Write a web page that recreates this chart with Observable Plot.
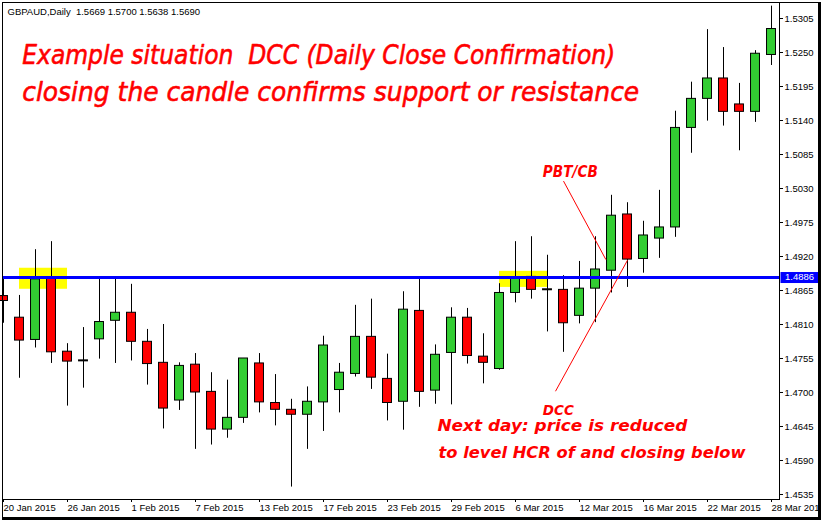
<!DOCTYPE html>
<html><head><meta charset="utf-8">
<script src="https://cdn.jsdelivr.net/npm/d3@7"></script>
<script src="https://cdn.jsdelivr.net/npm/@observablehq/plot@0.6"></script>
<style>
html,body{margin:0;padding:0;background:#fff;}
#wrap{position:relative;width:821px;height:520px;overflow:hidden;background:#fff;}
#wrap svg{position:absolute;left:0;top:0;}
#border{position:absolute;z-index:2;left:2px;top:2px;width:815px;height:514px;border-left:1px solid #000;border-top:1px solid #000;border-right:3px solid #000;border-bottom:3px solid #000;pointer-events:none;}
</style></head><body>
<div id="wrap"><div id="border"></div></div>
<script>
// ---- data ----
const symbol = "GBPAUD,Daily";
const headerQuote = ["1.5669", "1.5700", "1.5638", "1.5690"];
const level = 1.4886;
const dateLabels = ["20 Jan 2015","26 Jan 2015","1 Feb 2015","7 Feb 2015","13 Feb 2015","17 Feb 2015","23 Feb 2015","29 Feb 2015","6 Mar 2015","12 Mar 2015","16 Mar 2015","22 Mar 2015","28 Mar 2015"];
const priceTicks = [1.4535,1.4590,1.4645,1.4700,1.4755,1.4810,1.4865,1.4920,1.4975,1.5030,1.5085,1.5140,1.5195,1.5250,1.5305];
const opens  = [1.4856,1.4821,1.4785,1.4886,1.4766,1.4752,1.4786,1.4816,1.4829,1.4782,1.4748,1.4687,1.4745,1.4701,1.4640,1.4659,1.4747,1.4683,1.4672,1.4664,1.4684,1.4704,1.4730,1.4790,1.4722,1.4685,1.4832,1.4703,1.4764,1.4821,1.4758,1.4738,1.4861,1.4887,1.4867,1.4866,1.4824,1.4868,1.4897,1.4988,1.4916,1.4949,1.4967,1.5128,1.5175,1.5208,1.5166,1.5154,1.5246];
const highs  = [1.4887,1.4857,1.4931,1.4944,1.4779,1.4805,1.4883,1.4883,1.4875,1.4802,1.4810,1.4748,1.4763,1.4732,1.4720,1.4755,1.4763,1.4729,1.4689,1.4709,1.4791,1.4747,1.4841,1.4851,1.4762,1.4863,1.4886,1.4777,1.4837,1.4836,1.4795,1.4876,1.4944,1.4952,1.4922,1.4889,1.4912,1.4952,1.5019,1.5007,1.4977,1.5027,1.5155,1.5202,1.5287,1.5258,1.5200,1.5253,1.5325];
const lows   = [1.4812,1.4723,1.4772,1.4747,1.4678,1.4707,1.4754,1.4747,1.4751,1.4712,1.4641,1.4671,1.4608,1.4615,1.4626,1.4650,1.4667,1.4646,1.4547,1.4608,1.4637,1.4667,1.4725,1.4705,1.4654,1.4639,1.4676,1.4681,1.4680,1.4746,1.4714,1.4736,1.4845,1.4851,1.4798,1.4765,1.4811,1.4813,1.4861,1.4870,1.4893,1.4917,1.4951,1.5087,1.5139,1.5131,1.5091,1.5137,1.5229];
const closes = [1.4848,1.4784,1.4883,1.4765,1.4750,1.4752,1.4814,1.4829,1.4782,1.4746,1.4674,1.4743,1.4700,1.4640,1.4659,1.4755,1.4684,1.4672,1.4664,1.4685,1.4776,1.4732,1.4790,1.4724,1.4683,1.4834,1.4701,1.4761,1.4821,1.4759,1.4748,1.4861,1.4886,1.4866,1.4867,1.4812,1.4868,1.4899,1.4986,1.4915,1.4954,1.4967,1.5128,1.5175,1.5208,1.5154,1.5154,1.5248,1.5288];

// ---- derived table ----
const candles = opens.map((o, i) => ({i, open: o, high: highs[i], low: lows[i], close: closes[i]}));
const bodies = candles.filter(d => d.open !== d.close);
const dojis = candles.filter(d => d.open === d.close);
const tickIdx = dateLabels.map((_, k) => k * 4);

// annotation geometry (in data coordinates)
const zones = [
  {x1: 1, x2: 4, y1: 1.4867, y2: 1.4901},
  {x1: 31, x2: 34, y1: 1.4870, y2: 1.4896}
];
const pointers = [
  {x1: 35.0, y1: 1.5042, x2: 37.65, y2: 1.4915},
  {x1: 34.5, y1: 1.4702, x2: 39.0, y2: 1.4914}
];
const bigNotes = [
  {x: 1.17, y: 1.52317, text: "Example situation  DCC (Daily Close Confirmation)", w: 593},
  {x: 1.17, y: 1.51723, text: "closing the candle confirms support or resistance", w: 617}
];
const smallNotes = [
  {x: 33.71, y: 1.50494, text: "PBT/CB", w: 55, fs: 15},
  {x: 33.71, y: 1.46644, text: "DCC", w: 31, fs: 14.5},
  {x: 27.12, y: 1.46374, text: "Next day: price is reduced", w: 250, fs: 16},
  {x: 27.19, y: 1.45944, text: "to level HCR of and closing below", w: 307, fs: 16}
];

const RED = "#ff0000", GREEN = "#32cd32", BLUE = "#0000ff";

const chart = Plot.plot({
  width: 821, height: 520,
  marginLeft: 2, marginTop: 2, marginRight: 42, marginBottom: 21,
  x: {domain: [-0.0625, 48.5]},
  y: {domain: [1.45269, 1.53309]},
  style: {fontFamily: "'Liberation Sans', Arial, sans-serif", fontSize: "9.5px", background: "#fff", color: "#000", overflow: "visible"},
  marks: [
    Plot.rect(zones, {x1: "x1", x2: "x2", y1: "y1", y2: "y2", fill: "#ffff00"}),
    Plot.ruleX(candles, {x: "i", y1: "low", y2: "high", stroke: "#000", strokeWidth: 1}),
    Plot.rect(bodies, {x1: d => d.i - 0.28, x2: d => d.i + 0.28, y1: "open", y2: "close",
      fill: d => d.close > d.open ? GREEN : RED, stroke: "#000", strokeWidth: 1}),
    Plot.ruleY(dojis, {x1: d => d.i - 0.31, x2: d => d.i + 0.31, y: "close", stroke: "#000", strokeWidth: 2}),
    Plot.ruleY([level], {stroke: BLUE, strokeWidth: 3}),
    Plot.link(pointers, {x1: "x1", y1: "y1", x2: "x2", y2: "y2", stroke: RED, strokeWidth: 1}),
    Plot.text(bigNotes, {x: "x", y: "y", text: "text", textAnchor: "start", lineAnchor: "bottom",
      fill: RED, stroke: RED, strokeWidth: 0.6, fontSize: 27, fontStyle: "italic", fontFamily: "'DejaVu Sans', sans-serif"}),
    Plot.text(smallNotes, {x: "x", y: "y", text: "text", textAnchor: "start", lineAnchor: "bottom",
      fill: RED, fontSize: d => d.fs, fontStyle: "italic", fontWeight: "bold", fontFamily: "'DejaVu Sans', sans-serif"}),
    Plot.text([symbol + "  " + headerQuote.join(" ")], {frameAnchor: "top-left", textAnchor: "start", lineAnchor: "bottom",
      dx: 5, dy: 12, fill: "#000", fontSize: 9.5}),
    Plot.frame({stroke: "#000"}),
    Plot.axisX(tickIdx, {anchor: "bottom", tickSize: 3, tickPadding: 2, textAnchor: "start", tickFormat: d => dateLabels[d / 4]}),
    Plot.axisY(priceTicks, {anchor: "right", tickSize: 3, tickPadding: 2, tickFormat: d => d.toFixed(4)})
  ]
});

// fit the note widths to the reference (text mark groups in mark order)
const svg = d3.select(chart);
const textGroups = svg.selectAll('g[aria-label="text"]').nodes();
d3.select(textGroups[0]).selectAll("text").each(function(_, k) {
  d3.select(this).attr("textLength", bigNotes[k].w).attr("lengthAdjust", "spacingAndGlyphs");
});
d3.select(textGroups[1]).selectAll("text").each(function(_, k) {
  d3.select(this).attr("textLength", smallNotes[k].w).attr("lengthAdjust", "spacingAndGlyphs");
});
// current-level price label on the right axis
const yPix = chart.scale("y").apply(level);
const xRight = chart.scale("x").range[1];
svg.append("rect").attr("x", xRight + 1.5).attr("y", yPix - 5).attr("width", 38).attr("height", 11).attr("fill", BLUE);
svg.append("text").attr("x", xRight + 6).attr("y", yPix).attr("dy", "0.35em").attr("fill", "#fff")
  .attr("text-anchor", "start").attr("font-size", "9.5px").text(level.toFixed(4));

document.getElementById("wrap").insertBefore(chart, document.getElementById("border"));
</script>
</body></html>
